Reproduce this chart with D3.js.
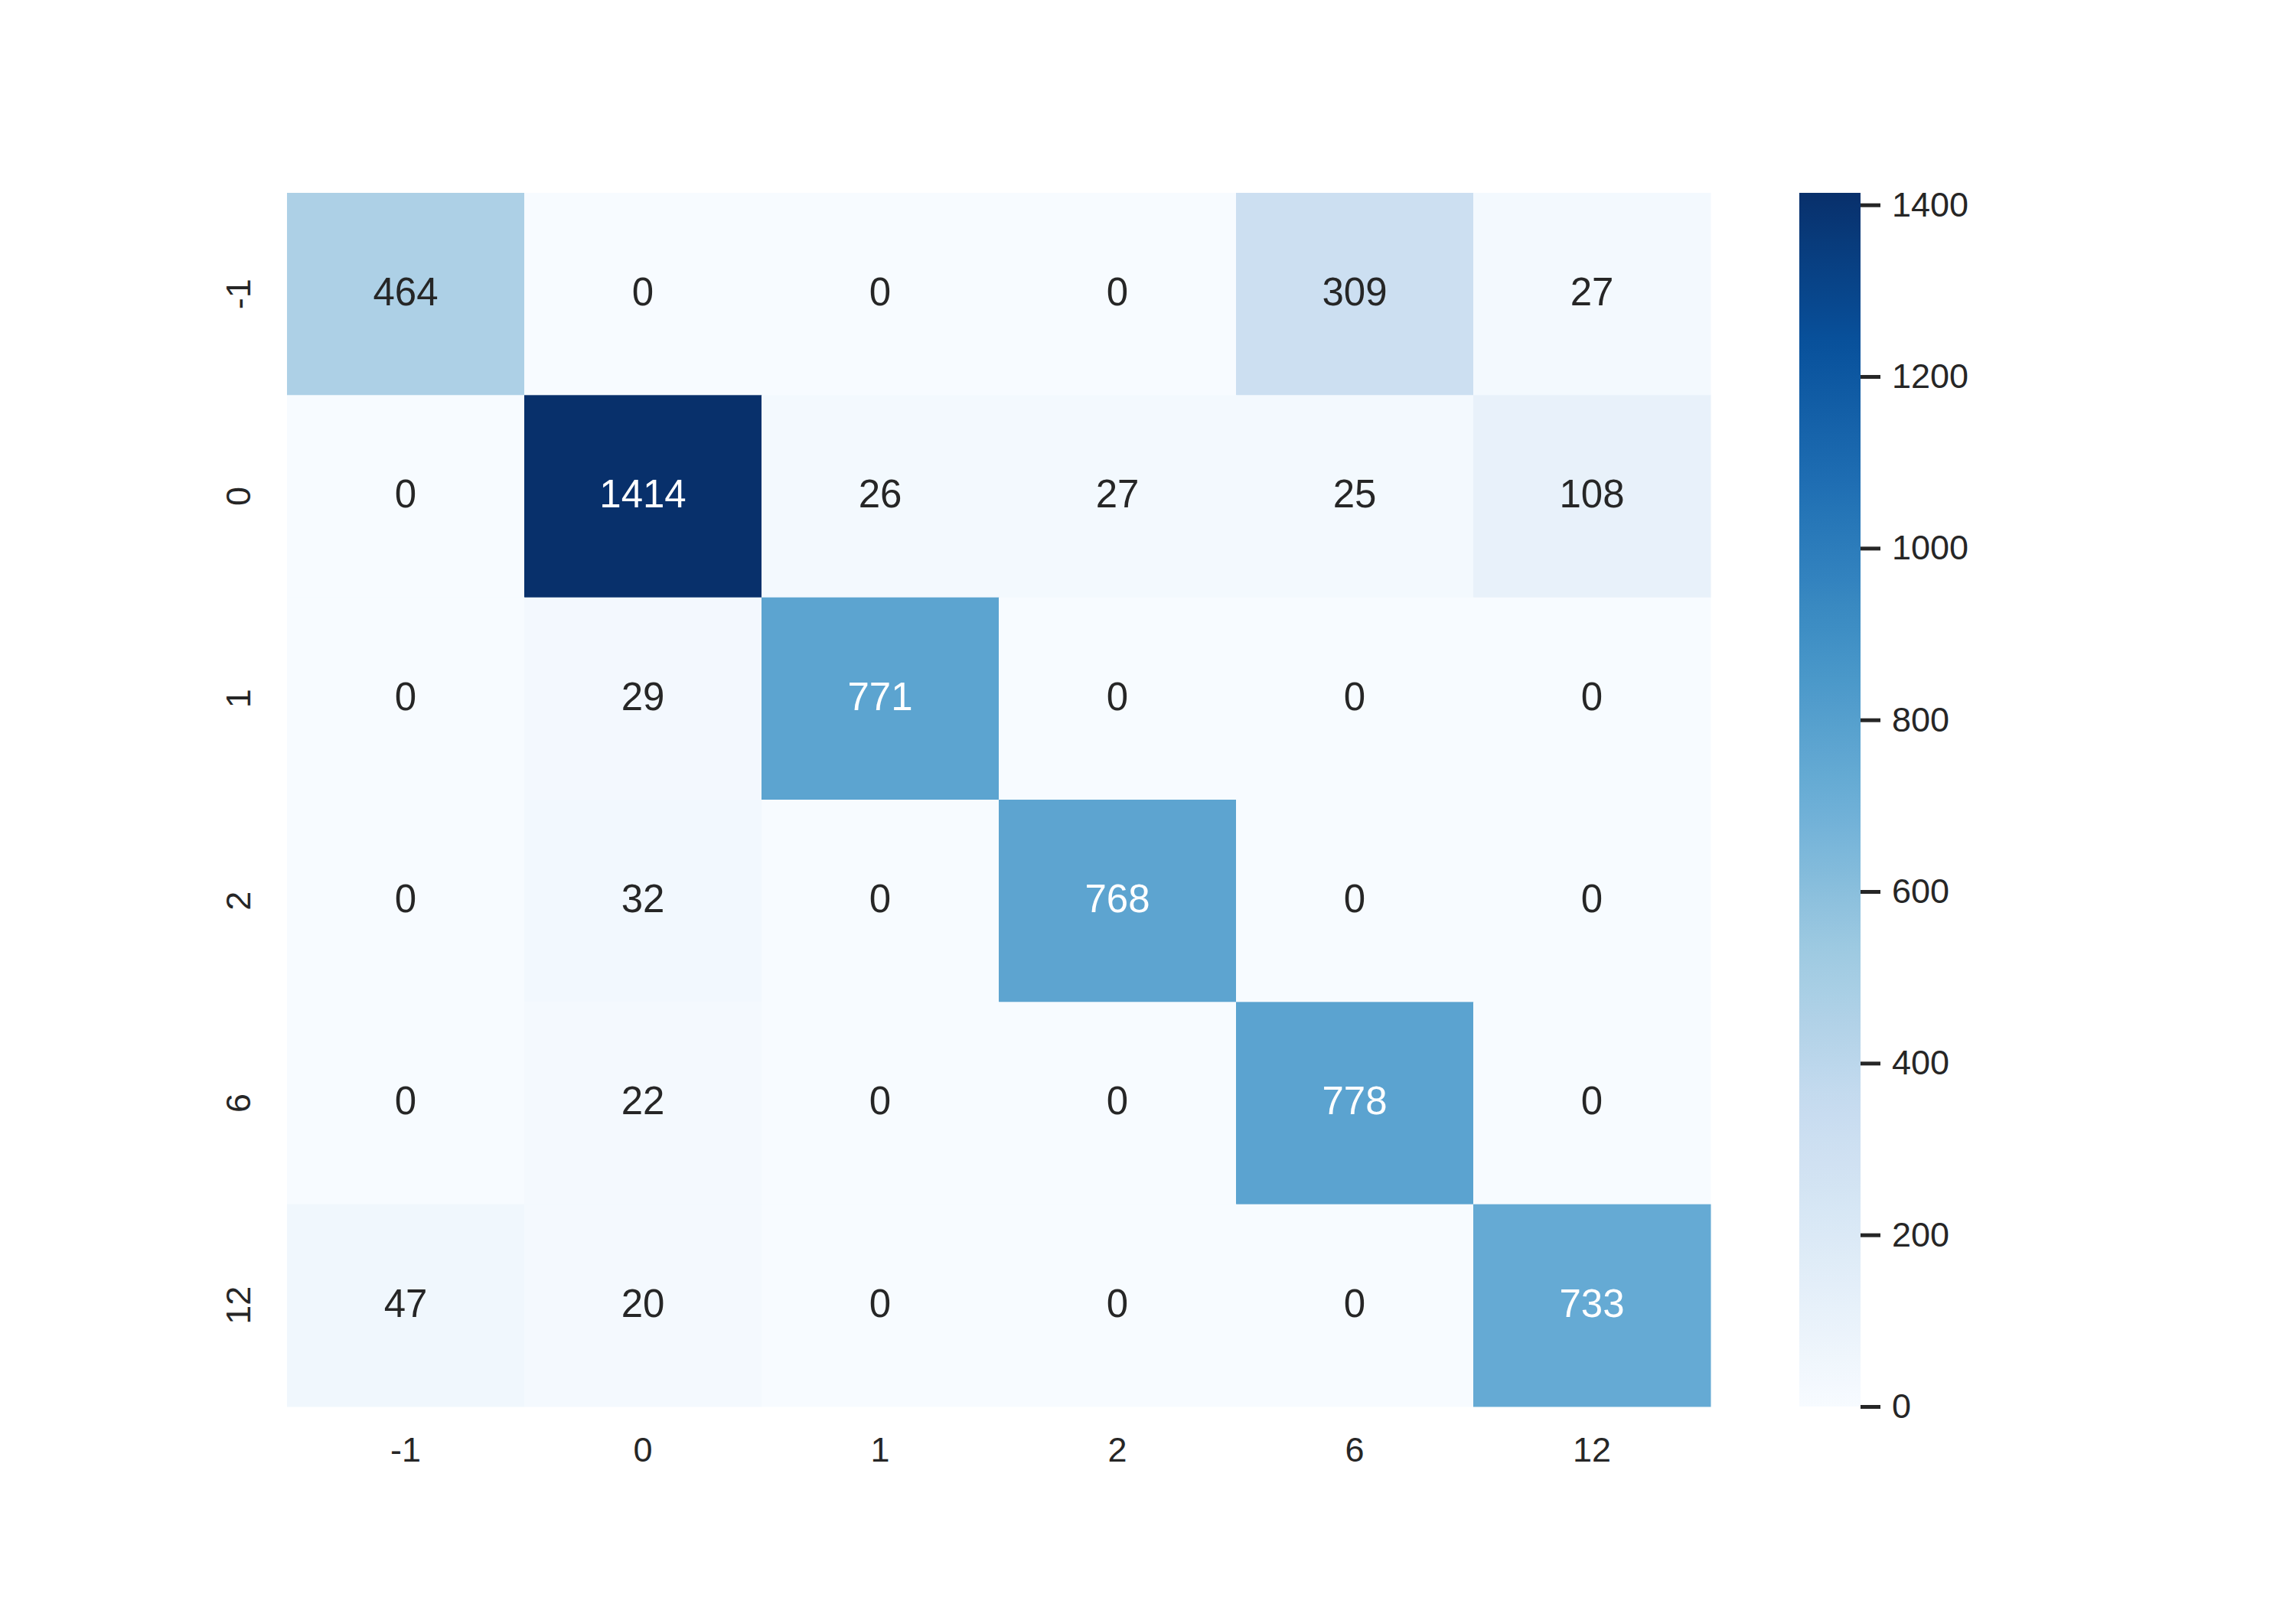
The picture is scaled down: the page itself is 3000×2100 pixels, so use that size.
<!DOCTYPE html>
<html>
<head>
<meta charset="utf-8">
<script src="https://cdn.jsdelivr.net/npm/d3@7"></script>
<style>
  body { margin: 0; background: #fff; }
  svg { display: block; font-family: "Liberation Sans", Arial, sans-serif; }
</style>
</head>
<body>
<svg width="3000" height="2100"></svg>
<script>
const width = 3000;
const height = 2100;

// confusion matrix labels (same for rows and columns)
const rowLabels = ["-1", "0", "1", "2", "6", "12"];
const colLabels = ["-1", "0", "1", "2", "6", "12"];

// counts, one array per true-label row
const rowNeg1 = [464, 0, 0, 0, 309, 27];
const row0 = [0, 1414, 26, 27, 25, 108];
const row1 = [0, 29, 771, 0, 0, 0];
const row2 = [0, 32, 0, 768, 0, 0];
const row6 = [0, 22, 0, 0, 778, 0];
const row12 = [47, 20, 0, 0, 0, 733];
const matrix = [rowNeg1, row0, row1, row2, row6, row12];

const colorbarTicks = [0, 200, 400, 600, 800, 1000, 1200, 1400];

// matplotlib "Blues" control colours (linear segments)
const blues = ["#f7fbff", "#deebf7", "#c6dbef", "#9ecae1", "#6baed6",
               "#4292c6", "#2171b5", "#08519c", "#08306b"];

const textDark = "#262626";

const plot = { left: 375, top: 252, right: 2235, bottom: 1838 };
const cbar = { left: 2351, width: 80 };

const svg = d3.select("svg");

const vmax = d3.max(matrix.flat());
const color = d3.scaleLinear()
    .domain(blues.map((_, i) => i / (blues.length - 1) * vmax))
    .range(blues)
    .interpolate(d3.interpolateRgb)
    .clamp(true);

const x = d3.scaleBand().domain(colLabels).range([plot.left, plot.right]);
const y = d3.scaleBand().domain(rowLabels).range([plot.top, plot.bottom]);

// relative luminance, same rule seaborn uses to pick annotation colour
function luminance(c) {
    const rgb = d3.rgb(c);
    const lin = [rgb.r, rgb.g, rgb.b].map(v => {
        v /= 255;
        return v <= 0.03928 ? v / 12.92 : Math.pow((v + 0.055) / 1.055, 2.4);
    });
    return 0.2126 * lin[0] + 0.7152 * lin[1] + 0.0722 * lin[2];
}

const cells = [];
matrix.forEach((row, i) => {
    row.forEach((v, j) => {
        cells.push({ r: rowLabels[i], c: colLabels[j], v: v });
    });
});

svg.append("g")
    .selectAll("rect")
    .data(cells)
    .join("rect")
    .attr("x", d => x(d.c))
    .attr("y", d => y(d.r))
    .attr("width", x.bandwidth() + 0.5)
    .attr("height", y.bandwidth() + 0.5)
    .attr("fill", d => color(d.v));

svg.append("g")
    .selectAll("text")
    .data(cells)
    .join("text")
    .attr("x", d => x(d.c) + x.bandwidth() / 2)
    .attr("y", d => y(d.r) + y.bandwidth() / 2)
    .attr("text-anchor", "middle")
    .attr("dy", "0.29em")
    .attr("font-size", 51)
    .attr("fill", d => luminance(color(d.v)) > 0.408 ? textDark : "#ffffff")
    .text(d => d.v);

// x axis
const xAxis = svg.append("g")
    .attr("transform", `translate(0,${plot.bottom})`)
    .call(d3.axisBottom(x).tickSize(0).tickPadding(40));
xAxis.select(".domain").remove();
xAxis.selectAll("text")
    .attr("font-size", 45)
    .attr("fill", textDark);

// y axis, labels rotated
const yAxis = svg.append("g")
    .attr("transform", `translate(${plot.left},0)`)
    .call(d3.axisLeft(y).tickSize(0));
yAxis.select(".domain").remove();
yAxis.selectAll("text")
    .attr("x", null)
    .attr("dy", null)
    .attr("text-anchor", "middle")
    .attr("transform", "translate(-48,0) rotate(-90)")
    .attr("font-size", 45)
    .attr("fill", textDark);

// colorbar
const cScale = d3.scaleLinear()
    .domain([0, vmax])
    .range([plot.bottom, plot.top]);

const defs = svg.append("defs");
const grad = defs.append("linearGradient")
    .attr("id", "cbar-grad")
    .attr("x1", 0).attr("y1", 1)
    .attr("x2", 0).attr("y2", 0);
grad.selectAll("stop")
    .data(d3.range(0, 1.0001, 0.02))
    .join("stop")
    .attr("offset", t => t)
    .attr("stop-color", t => color(t * vmax));

svg.append("rect")
    .attr("x", cbar.left)
    .attr("y", plot.top)
    .attr("width", cbar.width)
    .attr("height", plot.bottom - plot.top)
    .attr("fill", "url(#cbar-grad)");

const cAxis = svg.append("g")
    .attr("transform", `translate(${cbar.left + cbar.width},0)`)
    .call(d3.axisRight(cScale)
        .tickValues(colorbarTicks)
        .tickFormat(d3.format("d"))
        .tickSize(26)
        .tickPadding(15));
cAxis.select(".domain").remove();
cAxis.selectAll("line")
    .attr("stroke", textDark)
    .attr("stroke-width", 5);
cAxis.selectAll("text")
    .attr("font-size", 45)
    .attr("fill", textDark);
</script>
</body>
</html>
